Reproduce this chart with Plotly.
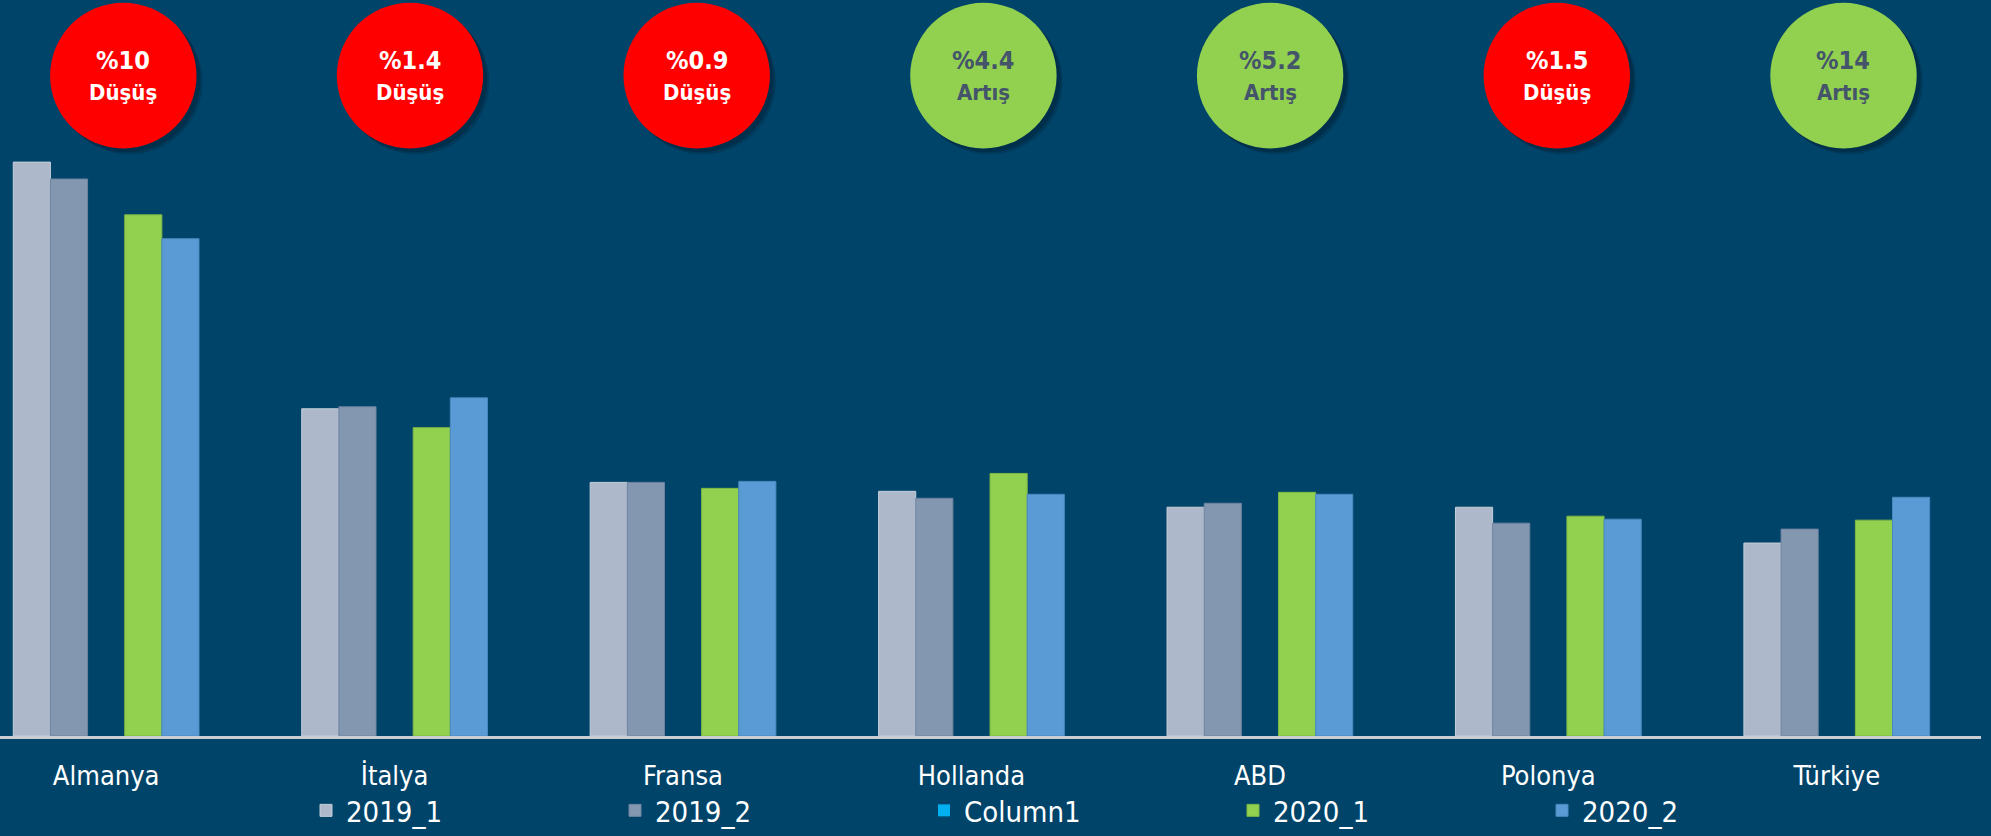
import plotly.graph_objects as go

# ---- data (arbitrary units) ----
categories = ["Almanya", "İtalya", "Fransa", "Hollanda", "ABD", "Polonya", "Türkiye"]
series_names = ["2019_1", "2019_2", "Column1", "2020_1", "2020_2"]
v2019_1 = [57.7, 32.9, 25.5, 24.6, 23.0, 23.0, 19.4]
v2019_2 = [56.0, 33.1, 25.5, 23.9, 23.4, 21.4, 20.8]
v_column1 = [0, 0, 0, 0, 0, 0, 0]
v2020_1 = [52.4, 31.0, 24.9, 26.4, 24.5, 22.1, 21.7]
v2020_2 = [50.0, 34.0, 25.6, 24.3, 24.3, 21.8, 24.0]
change_pct = ["%10", "%1.4", "%0.9", "%4.4", "%5.2", "%1.5", "%14"]
change_word = ["Düşüş", "Düşüş", "Düşüş", "Artış", "Artış", "Düşüş", "Artış"]

# ---- styling ----
BG = "#01446A"
FONT = "DejaVu Sans Condensed, Liberation Sans Narrow, sans-serif"
colors = ["#ADB9CA", "#8497B0", "#00B0F0", "#92D050", "#5B9BD5"]
line_colors = ["#C5CEDA", "#6F84A0", "#00B0F0", "#7FB843", "#4A89C0"]
values = [v2019_1, v2019_2, v_column1, v2020_1, v2020_2]

W, H = 1991, 836
ML, MR, MT, MB = 0, 10, 0, 96
PW, PH = W - ML - MR, H - MT - MB

fig = go.Figure()
for name, vals, c, lc in zip(series_names, values, colors, line_colors):
    fig.add_trace(go.Bar(
        name=name, x=categories, y=vals,
        marker=dict(color=c, line=dict(color=lc, width=0 if name == "Column1" else 1)),
        hoverinfo="x+y+name",
    ))

def px_x(p):
    return p / PW

def px_y(p):
    return (PH - p) / PH

shapes = []
annotations = []
for k, (pct, word) in enumerate(zip(change_pct, change_word)):
    up = word == "Artış"
    fill = "#92D050" if up else "#FF0000"
    tcol = "#44546A" if up else "#FFFFFF"
    cx = 123.3 + 286.7 * k
    cy = 76
    r = 73.2
    # soft shadow
    for off, a in [(6, 0.18), (4, 0.25)]:
        shapes.append(dict(type="circle", xref="paper", yref="paper",
                           x0=px_x(cx - r + off), x1=px_x(cx + r + off),
                           y0=px_y(cy + r + off), y1=px_y(cy - r + off),
                           fillcolor=f"rgba(0,15,30,{a})", line=dict(width=0), layer="above"))
    shapes.append(dict(type="circle", xref="paper", yref="paper",
                       x0=px_x(cx - r), x1=px_x(cx + r),
                       y0=px_y(cy + r), y1=px_y(cy - r),
                       fillcolor=fill, line=dict(width=0), layer="above"))
    annotations.append(dict(xref="paper", yref="paper", x=px_x(cx), y=px_y(61),
                            text=f"<b>{pct}</b>", showarrow=False,
                            font=dict(family=FONT, size=25, color=tcol),
                            xanchor="center", yanchor="middle"))
    annotations.append(dict(xref="paper", yref="paper", x=px_x(cx), y=px_y(93),
                            text=f"<b>{word}</b>", showarrow=False,
                            font=dict(family=FONT, size=22, color=tcol),
                            xanchor="center", yanchor="middle"))

fig.update_layout(
    width=W, height=H,
    margin=dict(l=ML, r=MR, t=MT, b=MB, pad=0),
    paper_bgcolor=BG, plot_bgcolor=BG,
    barmode="group", bargap=0.356, bargroupgap=0,
    font=dict(family=FONT, color="#FFFFFF"),
    showlegend=True,
    legend=dict(orientation="h", x=px_x(306), xanchor="left", y=px_y(815), yanchor="middle",
                font=dict(family=FONT, size=29, color="#FFFFFF"),
                entrywidth=264, entrywidthmode="pixels",
                bgcolor="rgba(0,0,0,0)", traceorder="normal", itemclick=False),
    xaxis=dict(type="category", range=[-0.368, 6.5], showline=True,
               linecolor="#C9CED4", linewidth=3, showgrid=False, zeroline=False,
               ticks="", tickfont=dict(family=FONT, size=27, color="#FFFFFF"),
               ticklabelstandoff=14, fixedrange=True),
    yaxis=dict(range=[0, 74.0], visible=False, showgrid=False, zeroline=False, fixedrange=True),
    shapes=shapes,
    annotations=annotations,
)

fig.write_html(
    "out.html",
    config={"displayModeBar": False},
    post_script="document.body.style.margin='0';document.body.style.background='#01446A';document.body.style.overflow='hidden';",
)
